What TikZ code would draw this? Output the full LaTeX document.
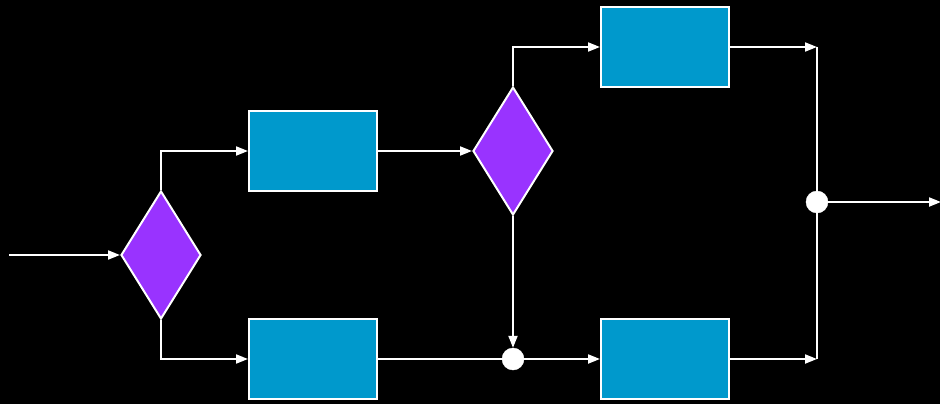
\documentclass[tikz,border=0pt]{standalone}
\usetikzlibrary{shapes.geometric,arrows.meta}
\definecolor{boxblue}{RGB}{0,153,204}
\definecolor{decpurple}{RGB}{153,51,255}
\tikzset{
  procbox/.style={draw=white,line width=2pt,fill=boxblue,minimum width=128pt,minimum height=80pt,inner sep=0pt,rectangle},
  decision/.style={draw=white,line width=2pt,fill=decpurple,shape=diamond,minimum width=80pt,minimum height=128pt,inner sep=0pt},
  junction/.style={draw=white,fill=white,circle,minimum size=22pt,inner sep=0pt},
  conn/.style={draw=white,line width=2pt},
  arr/.style={conn,-{Triangle[length=12pt,width=9pt]}}
}
\begin{document}
\begin{tikzpicture}[x=1pt,y=-1pt]
\fill[black] (0,0) rectangle (940,404);
\useasboundingbox (0,0) rectangle (940,404);
\coordinate (in) at (9,255);
\node[decision] (d1) at (161,255) {};
\node[procbox] (b1) at (313,151) {};
\node[procbox] (b2) at (313,359) {};
\node[decision] (d2) at (513,151) {};
\node[procbox] (b3) at (665,47) {};
\node[procbox] (b4) at (665,359) {};
\node[junction] (j1) at (513,359) {};
\node[junction] (j2) at (817,202) {};
\coordinate (c3) at (817,47);
\coordinate (c4) at (817,359);
\coordinate (out) at (941,202);
\draw[arr] (in) -- (d1.west);
\draw[arr] (d1.north) |- (b1.west);
\draw[arr] (d1.south) |- (b2.west);
\draw[arr] (b1.east) -- (d2.west);
\draw[arr] (d2.north) |- (b3.west);
\draw[arr] (d2.south) -- (j1.north);
\draw[conn] (b2.east) -- (j1.west);
\draw[arr] (j1.east) -- (b4.west);
\draw[arr] (b3.east) -- (c3);
\draw[arr] (b4.east) -- (c4);
\draw[conn] (c3) -- (j2.north);
\draw[conn] (c4) -- (j2.south);
\draw[arr] (j2.east) -- (out);
\end{tikzpicture}
\end{document}
